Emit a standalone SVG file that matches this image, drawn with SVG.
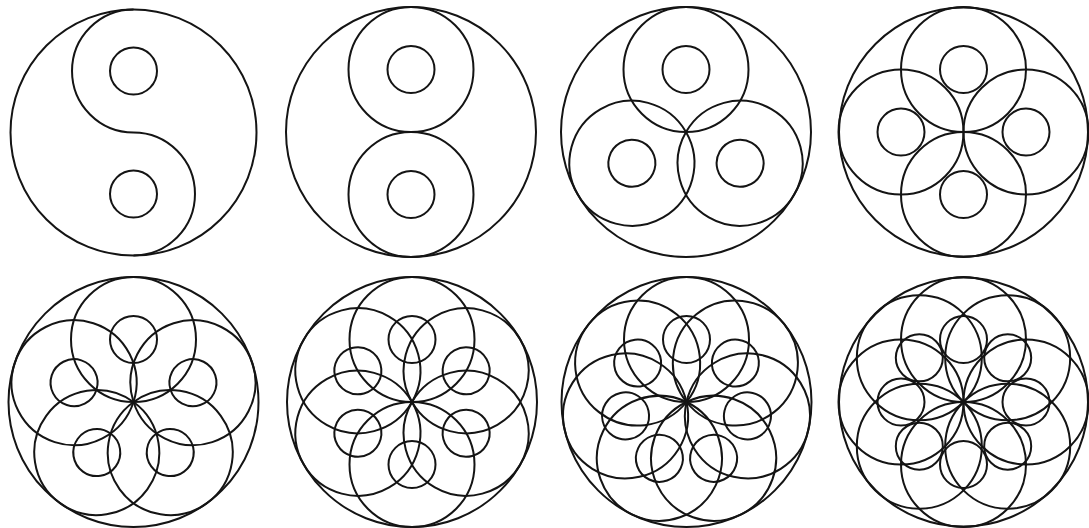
<svg xmlns="http://www.w3.org/2000/svg" xmlns:xlink="http://www.w3.org/1999/xlink" width="1089" height="528" viewBox="0 0 1089 528">
<style>
circle, path { fill: none; stroke: #141414; stroke-width: 2; }
</style>
<defs>
<g id="petal">
<circle cx="0" cy="-62.5" r="62.5"/>
<circle cx="0" cy="-62.5" r="23.5"/>
</g>
</defs>
<rect width="1089" height="528" fill="#ffffff"/>
<g id="p1" transform="translate(133.5,132.5)">
<circle r="123"/>
<path d="M0,-123 A61.5,61.5 0 0 0 0,0 A61.5,61.5 0 0 1 0,123"/>
<circle cx="0" cy="-61.5" r="23.5"/>
<circle cx="0" cy="61.5" r="23.5"/>
</g>
<g id="p2" transform="translate(411,132)">
<circle r="125"/>
<use xlink:href="#petal"/>
<use xlink:href="#petal" transform="rotate(180)"/>
</g>
<g id="p3" transform="translate(686,132)">
<circle r="125"/>
<use xlink:href="#petal"/>
<use xlink:href="#petal" transform="rotate(120)"/>
<use xlink:href="#petal" transform="rotate(240)"/>
</g>
<g id="p4" transform="translate(963.5,132)">
<circle r="124.5"/>
<use xlink:href="#petal"/>
<use xlink:href="#petal" transform="rotate(90)"/>
<use xlink:href="#petal" transform="rotate(180)"/>
<use xlink:href="#petal" transform="rotate(270)"/>
</g>
<g id="p5" transform="translate(133.5,402)">
<circle r="125"/>
<use xlink:href="#petal"/>
<use xlink:href="#petal" transform="rotate(72)"/>
<use xlink:href="#petal" transform="rotate(144)"/>
<use xlink:href="#petal" transform="rotate(216)"/>
<use xlink:href="#petal" transform="rotate(288)"/>
</g>
<g id="p6" transform="translate(412,402)">
<circle r="125"/>
<use xlink:href="#petal"/>
<use xlink:href="#petal" transform="rotate(60)"/>
<use xlink:href="#petal" transform="rotate(120)"/>
<use xlink:href="#petal" transform="rotate(180)"/>
<use xlink:href="#petal" transform="rotate(240)"/>
<use xlink:href="#petal" transform="rotate(300)"/>
</g>
<g id="p7" transform="translate(686.5,402)">
<circle r="125"/>
<use xlink:href="#petal"/>
<use xlink:href="#petal" transform="rotate(51.4286)"/>
<use xlink:href="#petal" transform="rotate(102.8571)"/>
<use xlink:href="#petal" transform="rotate(154.2857)"/>
<use xlink:href="#petal" transform="rotate(205.7143)"/>
<use xlink:href="#petal" transform="rotate(257.1429)"/>
<use xlink:href="#petal" transform="rotate(308.5714)"/>
</g>
<g id="p8" transform="translate(963.5,402)">
<circle r="124.5"/>
<use xlink:href="#petal"/>
<use xlink:href="#petal" transform="rotate(45)"/>
<use xlink:href="#petal" transform="rotate(90)"/>
<use xlink:href="#petal" transform="rotate(135)"/>
<use xlink:href="#petal" transform="rotate(180)"/>
<use xlink:href="#petal" transform="rotate(225)"/>
<use xlink:href="#petal" transform="rotate(270)"/>
<use xlink:href="#petal" transform="rotate(315)"/>
</g>
<g id="connectors"></g>
</svg>
